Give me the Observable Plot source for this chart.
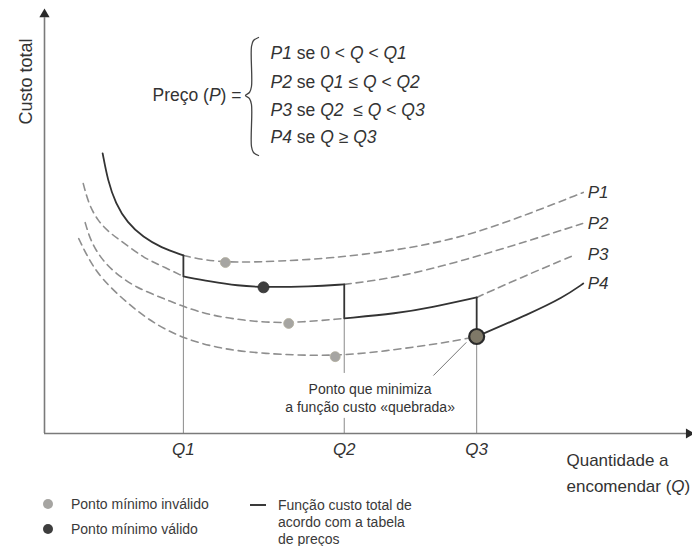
<!DOCTYPE html>
<html><head><meta charset="utf-8">
<script src="https://cdn.jsdelivr.net/npm/d3@7"></script>
<script src="https://cdn.jsdelivr.net/npm/@observablehq/plot@0.6"></script>
<style>
html,body{margin:0;padding:0;background:#fff;overflow:hidden;width:692px;height:546px}
#wrap{position:relative;width:692px;height:546px;font-family:"Liberation Sans",Arial,sans-serif;color:#3a3a3a}
#legend{position:absolute;left:0;top:495px;width:692px;height:51px;font-size:14px;line-height:17px}
#legend .dot{position:absolute;width:10px;height:10px;border-radius:50%}
#legend .txt{position:absolute;white-space:nowrap}
#legend .ln{position:absolute;height:1.6px;background:#3a3a3a}
</style></head>
<body><div id="wrap"><div id="chart"></div><div id="legend"></div></div>
<script>
// Quantity break points and their tick labels
const Q1 = 21.5, Q2 = 46.4, Q3 = 66.9;
const qTicks = [Q1, Q2, Q3];
const qTickLabels = ["Q1", "Q2", "Q3"];

// Total cost curves for each price [Q, cost]
const P1 = [[9.0,66.7],[9.8,60.2],[11.0,54.8],[12.8,50.2],[15.3,46.7],[18.0,44.3],[21.5,42.4],[24.9,41.2],[29.6,40.7],[36.1,41.0],[44.3,41.7],[54.6,43.6],[64.9,46.7],[75.2,52.4],[83.4,57.4]];
const P2 = [[6.0,59.5],[6.8,54.8],[8.2,50.7],[10.2,47.6],[12.8,44.8],[15.3,41.9],[18.0,40.0],[21.5,37.4],[25.7,36.2],[29.9,35.2],[33.9,34.8],[41.2,35.0],[46.4,35.5],[54.6,37.1],[64.9,41.2],[75.2,46.0],[83.3,50.0]];
const P3 = [[6.3,50.2],[7.1,46.0],[8.7,41.7],[11.0,38.1],[14.1,34.8],[18.0,32.4],[21.5,30.2],[25.7,28.1],[31.9,26.7],[37.8,26.2],[46.4,27.4],[54.6,28.6],[59.8,30.0],[66.9,32.4],[75.2,38.1],[82.2,42.6]];
const P4 = [[5.3,46.4],[6.7,41.9],[8.7,37.0],[12.8,31.0],[16.9,26.2],[21.5,22.6],[27.2,20.2],[33.4,19.0],[45.0,18.3],[53.6,19.8],[62.4,21.7],[66.9,23.1],[75.2,28.6],[80.3,32.4],[83.4,35.7]];
const curveNames = ["P1", "P2", "P3", "P4"];
const labelQ = 84.1;

// Minimum points of each curve
const minQ = [28.0, 33.9, 37.8, 45.0];
const minCost = [40.7, 34.8, 26.2, 18.3];
const minValid = [false, true, false, false];
// Optimal point of the broken cost function
const optQ = [66.9];
const optCost = [23.1];

// Texts
const formulaLead = "Preço (P) =";
const formulaLines = ["P1 se 0 < Q < Q1", "P2 se Q1 ≤ Q < Q2", "P3 se Q2  ≤ Q < Q3", "P4 se Q ≥ Q3"];
const yLabel = "Custo total";
const xLabelLines = ["Quantidade a", "encomendar (Q)"];
const noteText = "Ponto que minimiza\na função custo «quebrada»";
const legendDots = ["Ponto mínimo inválido", "Ponto mínimo válido"];
const legendLine = ["Função custo total de", "acordo com a tabela", "de preços"];

// ---- build tables ----
const curves = [P1, P2, P3, P4];
const bounds = [0, Q1, Q2, Q3, Infinity];
const solidSegs = [], dashSegs = [];
curves.forEach((pts, i) => {
  const lo = bounds[i], hi = bounds[i + 1];
  const add = (arr, id, a, b) => pts.filter(([q]) => q >= a - 1e-9 && q <= b + 1e-9).forEach(([q, c]) => arr.push({id, q, c}));
  add(solidSegs, "s" + i, lo, hi);
  if (lo > 0) add(dashSegs, "d" + i + "a", 0, lo);
  if (hi < Infinity) add(dashSegs, "d" + i + "b", hi, Infinity);
});
const at = (pts, q) => pts.find(p => Math.abs(p[0] - q) < 1e-9)[1];
const jumps = [
  {q: Q1, c1: at(P1, Q1), c2: at(P2, Q1)},
  {q: Q2, c1: at(P2, Q2), c2: at(P3, Q2)},
  {q: Q3, c1: at(P3, Q3), c2: at(P4, Q3)}
];
const guides = [
  {q: Q1, c1: 0, c2: at(P2, Q1)},
  {q: Q2, c1: 0, c2: 3.6},
  {q: Q2, c1: 14.3, c2: at(P3, Q2)},
  {q: Q3, c1: 0, c2: at(P4, Q3)}
];
const mins = minQ.map((q, i) => ({q, c: minCost[i], valid: minValid[i]}));
const ends = curves.map((pts, i) => ({q: labelQ, c: pts[pts.length - 1][1], name: curveNames[i]}));
const braceShape = [[33.13,94.29],[32.35,93.57],[32.04,92.14],[32.04,82.62],[31.73,81.19],[31.11,80.48],[31.73,79.76],[32.04,78.33],[32.04,68.33],[32.35,66.90],[33.13,66.19]];

const FONT = '"Liberation Sans", Arial, sans-serif';
const DASH = "#8e8e8e", SOLID = "#333", TXT = "#333";

const plot = Plot.plot({
  width: 692, height: 495,
  marginLeft: 44, marginRight: 2, marginTop: 13, marginBottom: 62,
  x: {domain: [0, 100], axis: null},
  y: {domain: [0, 100], axis: null},
  style: {fontFamily: FONT, background: "white", color: TXT},
  marks: [
    // thin guide lines at the break points
    Plot.ruleX(guides, {x: "q", y1: "c1", y2: "c2", stroke: "#8a8a8a", strokeWidth: 1}),
    // dashed total cost curves
    Plot.line(dashSegs, {x: "q", y: "c", z: "id", curve: "basis", stroke: DASH, strokeWidth: 1.6, strokeDasharray: "7,5"}),
    // broken (solid) cost function
    Plot.line(solidSegs, {x: "q", y: "c", z: "id", curve: "basis", stroke: SOLID, strokeWidth: 1.8}),
    Plot.ruleX(jumps, {x: "q", y1: "c1", y2: "c2", stroke: SOLID, strokeWidth: 1.8}),
    // axes lines & arrows
    Plot.ruleX([0], {y1: 0, y2: 99, stroke: "#7a7a7a", strokeWidth: 1.6}),
    Plot.ruleY([0], {x1: 0, x2: 99.5, stroke: "#7a7a7a", strokeWidth: 1.6}),
    Plot.dot([{q: 0, c: 99.8}], {x: "q", y: "c", symbol: "triangle", r: 3.8, fill: "#2a2a2a", stroke: "none"}),
    Plot.dot([{q: 99.75, c: 0}], {x: "q", y: "c", symbol: "triangle", r: 3.8, rotate: 90, fill: "#2a2a2a", stroke: "none"}),
    // leader line for the note
    Plot.link([{q1: 60.2, c1: 13.8, q2: 65.3, c2: 21.7}], {x1: "q1", y1: "c1", x2: "q2", y2: "c2", stroke: "#777", strokeWidth: 1}),
    // minimum points
    Plot.dot(mins.filter(d => !d.valid), {x: "q", y: "c", r: 5, fill: "#a6a5a2", stroke: "#b3ae9e", strokeWidth: 0.8}),
    Plot.dot(mins.filter(d => d.valid), {x: "q", y: "c", r: 5.5, fill: "#3e3e3e", stroke: "#2e2e2e", strokeWidth: 0.8}),
    Plot.dot(optQ.map((q, i) => ({q, c: optCost[i]})), {x: "q", y: "c", r: 7.5, fill: "#7f7968", stroke: "#2b2b2b", strokeWidth: 2.2}),
    // curve labels
    Plot.text(ends, {x: "q", y: "c", text: "name", textAnchor: "start", fontSize: 17, fontStyle: "italic", fill: TXT}),
    // x axis ticks
    Plot.axisX(qTicks, {tickFormat: d => qTickLabels[qTicks.indexOf(d)], tickSize: 0, tickPadding: 9, fontSize: 17, fontStyle: "italic", fill: TXT, label: null}),
    // axis titles
    Plot.text([yLabel], {x: -2.8, y: 83.8, text: d => d, rotate: -90, fontSize: 18, fill: TXT}),
    Plot.text(xLabelLines, {x: 80.8, y: (d, i) => i === 0 ? -6.4 : -12.6, text: d => d, textAnchor: "start", fontSize: 17, fill: TXT, className: "ital"}),
    // note
    Plot.text([noteText], {x: 50.4, y: 8.7, text: d => d, fontSize: 14, lineHeight: 1.35, fill: TXT}),
    // price formula
    Plot.text([formulaLead], {x: 30.5, y: 80.5, text: d => d, textAnchor: "end", fontSize: 17.5, fill: TXT, className: "ital"}),
    Plot.text(formulaLines, {x: 35.0, y: (d, i) => [90.5, 83.6, 76.9, 70.5][i], text: d => d, textAnchor: "start", fontSize: 17.5, fill: TXT, className: "ital"}),
    Plot.line(braceShape, {x: d => d[0], y: d => d[1], curve: "catmull-rom", stroke: "#444", strokeWidth: 1.3})
  ]
});
document.getElementById("chart").appendChild(plot);

// italicize variable tokens (P, P1, Q, Q1...)
d3.select(plot).selectAll("g.ital text").each(function() {
  const t = this.textContent;
  const parts = t.split(/(\b[PQ]\d?\b)/);
  const el = d3.select(this);
  el.text(null);
  parts.forEach(p => {
    if (!p) return;
    const ts = el.append("tspan").text(p);
    if (/^[PQ]\d?$/.test(p)) ts.attr("font-style", "italic");
  });
});
d3.select(plot).selectAll("text").attr("xml:space", "preserve").style("white-space", "pre");

// legend
const lg = d3.select("#legend");
const dotColors = ["#a6a5a2", "#3e3e3e"];
legendDots.forEach((label, i) => {
  lg.append("div").attr("class", "dot").style("left", "43px").style("top", (4 + i * 25) + "px").style("background", dotColors[i]);
  lg.append("div").attr("class", "txt").style("left", "71px").style("top", (0.5 + i * 25) + "px").text(label);
});
lg.append("div").attr("class", "ln").style("left", "250px").style("width", "16px").style("top", "9px");
legendLine.forEach((label, i) => {
  lg.append("div").attr("class", "txt").style("left", "278px").style("top", (1.5 + i * 17) + "px").text(label);
});
</script></body></html>
